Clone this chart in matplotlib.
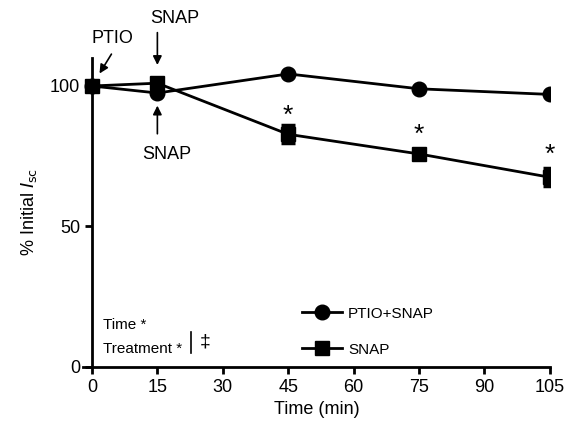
import matplotlib
matplotlib.use("Agg")
import matplotlib.pyplot as plt
from matplotlib.lines import Line2D

plt.rcParams['font.family'] = ['Liberation Sans', 'DejaVu Sans']

time_min = [0, 15, 45, 75, 105]
ptio_snap = [100, 97.5, 104.3, 99.0, 97.0]
ptio_snap_err = [0, 0.8, 0.8, 0.6, 0.8]
snap = [100, 101.0, 82.8, 75.8, 67.5]
snap_err = [0, 1.5, 3.2, 1.2, 3.2]
star_times = [45, 75, 105]
star_y = [89.5, 82.5, 75.5]

fig = plt.figure(figsize=(5.74, 4.29), dpi=100)
ax = fig.add_axes([0.145, 0.145, 0.813, 0.72])

ax.errorbar(time_min, ptio_snap, yerr=ptio_snap_err, color='black', lw=2,
            marker='o', ms=10.5, capsize=4.5, capthick=2, elinewidth=2, zorder=3)
ax.errorbar(time_min, snap, yerr=snap_err, color='black', lw=2,
            marker='s', ms=10, capsize=5, capthick=2.5, elinewidth=2, zorder=3)

for t, y in zip(star_times, star_y):
    ax.text(t, y, '*', ha='center', va='center', fontsize=19)

ax.set_xlim(-2, 105)
ax.set_ylim(0, 110)
ax.set_xticks([0, 15, 30, 45, 60, 75, 90, 105])
ax.set_yticks([0, 50, 100])
ax.spines['left'].set_position(('data', 0))
ax.spines['top'].set_visible(False)
ax.spines['right'].set_visible(False)
for s in ['left', 'bottom']:
    ax.spines[s].set_linewidth(2)
ax.tick_params(width=2, length=5, labelsize=13, direction='out')

ax.set_xlabel('Time (min)', fontsize=13)
ax.set_ylabel(r'% Initial $\mathit{I}_{\mathrm{sc}}$', fontsize=13, labelpad=8)

# treatment annotations
arrow = dict(arrowstyle='-|>', color='black', lw=1.2, mutation_scale=13)
ax.text(0.0, 117, 'PTIO', fontsize=13, ha='left', va='center', clip_on=False)
ax.annotate('', xy=(1.4, 103.6), xytext=(4.8, 112.2), annotation_clip=False,
            arrowprops=arrow)
ax.text(13.3, 124.2, 'SNAP', fontsize=13, ha='left', va='center', clip_on=False)
ax.annotate('', xy=(15, 106.5), xytext=(15, 120), annotation_clip=False,
            arrowprops=arrow)
ax.text(11.5, 75.7, 'SNAP', fontsize=13, ha='left', va='center')
ax.annotate('', xy=(15, 94), xytext=(15, 82), arrowprops=arrow)

# statistics box
ax.text(2.5, 14.8, 'Time *', fontsize=11, ha='left', va='center')
ax.text(2.5, 6.3, 'Treatment *', fontsize=11, ha='left', va='center')
ax.plot([22.7, 22.7], [4.8, 12.5], color='black', lw=1.2)
ax.text(26, 8.8, '\u2021', fontsize=14, ha='center', va='center')

handles = [Line2D([], [], color='black', lw=2, marker='o', ms=10.5),
           Line2D([], [], color='black', lw=2, marker='s', ms=10)]
ax.legend(handles, ['PTIO+SNAP', 'SNAP'], loc='lower left',
          bbox_to_anchor=(0.44, -0.012), frameon=False, fontsize=11,
          handlelength=2.6, labelspacing=1.45, handletextpad=0.4)

fig.savefig('out.png', dpi=100)
